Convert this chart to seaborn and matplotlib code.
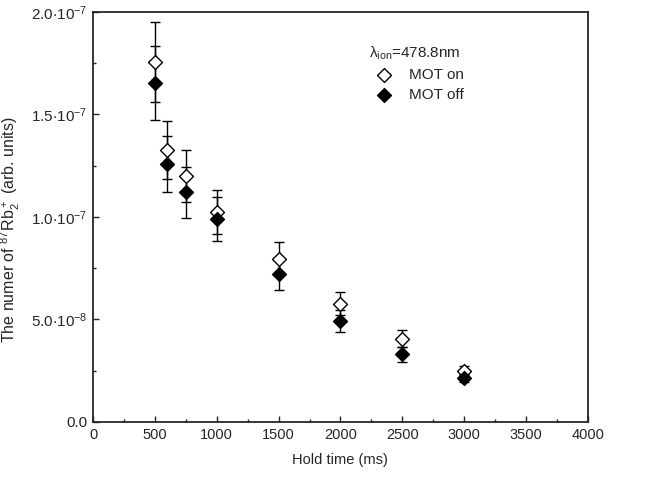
import numpy as np
import pandas as pd
import matplotlib
matplotlib.use("Agg")
import matplotlib.pyplot as plt
import seaborn as sns

# hold times (ms)
hold_time = [500, 600, 750, 1000, 1500, 2000, 2500, 3000]
# ion signal, MOT on / MOT off (arb. units)
mot_on = [1.757e-7, 1.325e-7, 1.200e-7, 1.024e-7, 0.795e-7, 0.578e-7, 0.407e-7, 0.249e-7]
mot_on_err = [0.195e-7, 0.142e-7, 0.128e-7, 0.108e-7, 0.081e-7, 0.057e-7, 0.040e-7, 0.022e-7]
mot_off = [1.652e-7, 1.258e-7, 1.120e-7, 0.990e-7, 0.722e-7, 0.494e-7, 0.331e-7, 0.214e-7]
mot_off_err = [0.180e-7, 0.136e-7, 0.124e-7, 0.108e-7, 0.080e-7, 0.054e-7, 0.037e-7, 0.020e-7]

yticks = [0.0, 0.5e-7, 1.0e-7, 1.5e-7, 2.0e-7]
yticklabels = ["0.0", r"$5.0{\cdot}10^{-8}$", r"$1.0{\cdot}10^{-7}$",
               r"$1.5{\cdot}10^{-7}$", r"$2.0{\cdot}10^{-7}$"]
xticks = [0, 500, 1000, 1500, 2000, 2500, 3000, 3500, 4000]

df = pd.DataFrame({"time": hold_time, "on": mot_on, "on_err": mot_on_err,
                   "off": mot_off, "off_err": mot_off_err})

sns.set_style("ticks")
plt.rcParams["font.family"] = ["Liberation Sans", "DejaVu Sans"]
plt.rcParams["mathtext.default"] = "regular"
plt.rcParams["xtick.direction"] = "in"
plt.rcParams["ytick.direction"] = "in"

fig = plt.figure(figsize=(6.62, 4.79), dpi=100)
ax = fig.add_axes([0.1405, 0.119, 0.7475, 0.856])

ax.errorbar(df["time"], df["on"], yerr=df["on_err"], fmt="none", ecolor="black",
            elinewidth=1, capsize=3.5, capthick=1, zorder=2)
ax.errorbar(df["time"], df["off"], yerr=df["off_err"], fmt="none", ecolor="black",
            elinewidth=1, capsize=3.5, capthick=1, zorder=2)
sns.scatterplot(data=df, x="time", y="on", marker="D", color="white",
                edgecolor="black", linewidth=1, s=50, label="MOT on", ax=ax, zorder=3)
sns.scatterplot(data=df, x="time", y="off", marker="D", color="black",
                edgecolor="black", linewidth=1, s=50, label="MOT off", ax=ax, zorder=4)

ax.set_xlim(0, 4000)
ax.set_ylim(0, 2.0e-7)
ax.set_xticks(xticks)
ax.set_xticks(np.arange(250, 4000, 500), minor=True)
ax.set_yticks(yticks)
ax.set_yticklabels(yticklabels)
ax.set_yticks(np.arange(0.25e-7, 2.0e-7, 0.5e-7), minor=True)
ax.tick_params(axis="both", which="major", length=4, width=1, labelsize=10.5, pad=4)
ax.tick_params(axis="y", which="major", labelsize=11)
ax.tick_params(axis="both", which="minor", length=2.5, width=1)
for s in ax.spines.values():
    s.set_linewidth(1.3)

ax.set_xlabel("Hold time (ms)", fontsize=10.5, labelpad=8)
ax.set_ylabel(r"The numer of $^{87}$Rb$_2^+$ (arb. units)", fontsize=11.5)
ax.yaxis.set_label_coords(-0.143, 0.47)

leg = ax.legend(title=r"$\lambda_{ion}$=478.8nm", frameon=False, loc="upper left",
                bbox_to_anchor=(0.545, 0.935), fontsize=11, title_fontsize=11,
                handletextpad=0.6, labelspacing=0.4, borderaxespad=0)
leg._legend_box.align = "left"

fig.savefig("out.png", dpi=100)
